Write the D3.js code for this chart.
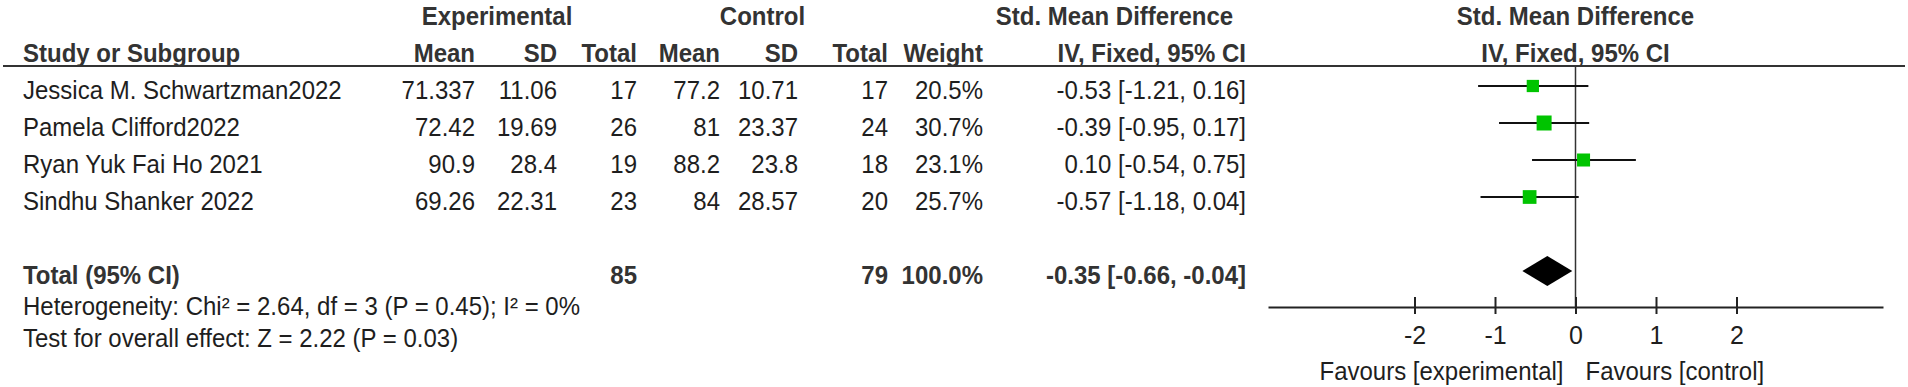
<!DOCTYPE html>
<html>
<head>
<meta charset="utf-8">
<script src="https://cdn.jsdelivr.net/npm/d3@7"></script>
<style>
  body { margin: 0; background: #fff; }
  svg text { font-family: "Liberation Sans", Arial, sans-serif; fill: #1e1e1e; }
</style>
</head>
<body>
<script>
var width = 1908;
var height = 387;

// study rows
var studies = ["Jessica M. Schwartzman2022", "Pamela Clifford2022", "Ryan Yuk Fai Ho 2021", "Sindhu Shanker 2022"];
var expMean = [71.337, 72.42, 90.9, 69.26];
var expSD = [11.06, 19.69, 28.4, 22.31];
var expTotal = [17, 26, 19, 23];
var ctrlMean = [77.2, 81, 88.2, 84];
var ctrlSD = [10.71, 23.37, 23.8, 28.57];
var ctrlTotal = [17, 24, 18, 20];
var weights = [20.5, 30.7, 23.1, 25.7];
var smd = [-0.53, -0.39, 0.10, -0.57];
var ciLow = [-1.21, -0.95, -0.54, -1.18];
var ciHigh = [0.16, 0.17, 0.75, 0.04];

// pooled result
var totalExp = 85;
var totalCtrl = 79;
var totalWeight = 100.0;
var totalSmd = -0.35;
var totalLow = -0.66;
var totalHigh = -0.04;
var heterogeneity = "Heterogeneity: Chi² = 2.64, df = 3 (P = 0.45); I² = 0%";
var overallEffect = "Test for overall effect: Z = 2.22 (P = 0.03)";

var axisTicks = [-2, -1, 0, 1, 2];
var axisDomain = [-3.82, 3.82];

var svg = d3.select("body").append("svg")
  .attr("width", width)
  .attr("height", height);

var x = d3.scaleLinear().domain(axisDomain).range([1268, 1883]);
var rowY = d3.scaleLinear().domain([0, 1]).range([86, 123]);
var boxSize = d3.scaleSqrt().domain([0, 30.7]).range([0, 15]);

var textShift = 13; // baseline below the row's centre line
var col = { study: 23, expMean: 475, expSD: 557, expTotal: 637, ctrlMean: 720, ctrlSD: 798, ctrlTotal: 888, weight: 983, ci: 1246 };

function fmt(v) { return v.toFixed(2); }
function ciText(e, l, h) { return fmt(e) + " [" + fmt(l) + ", " + fmt(h) + "]"; }

// text in the original is a little taller than Arial, so stretch it slightly
function addText(txt, xPos, yPos, anchor, bold) {
  return svg.append("text")
    .attr("transform", "translate(" + xPos + "," + yPos + ") scale(1,1.1)")
    .attr("text-anchor", anchor)
    .style("font-size", "24px")
    .style("font-weight", bold ? "bold" : "normal")
    .style("fill", bold ? "#333" : "#1e1e1e")
    .text(txt);
}

// headers
addText("Experimental", (357 + col.expTotal) / 2, 25, "middle", true);
addText("Control", (col.expTotal + col.ctrlTotal) / 2, 25, "middle", true);
addText("Std. Mean Difference", (col.weight + col.ci) / 2, 25, "middle", true);
addText("Std. Mean Difference", x(0), 25, "middle", true);

addText("Study or Subgroup", col.study, 62, "start", true);
addText("Mean", col.expMean, 62, "end", true);
addText("SD", col.expSD, 62, "end", true);
addText("Total", col.expTotal, 62, "end", true);
addText("Mean", col.ctrlMean, 62, "end", true);
addText("SD", col.ctrlSD, 62, "end", true);
addText("Total", col.ctrlTotal, 62, "end", true);
addText("Weight", col.weight, 62, "end", true);
addText("IV, Fixed, 95% CI", col.ci, 62, "end", true);
addText("IV, Fixed, 95% CI", x(0), 62, "middle", true);

svg.append("line")
  .attr("x1", 3).attr("x2", 1905)
  .attr("y1", 66).attr("y2", 66)
  .attr("stroke", "#333").attr("stroke-width", 2);

// study rows
studies.forEach(function(name, i) {
  var yb = rowY(i) + textShift;
  addText(name, col.study, yb, "start", false);
  addText(String(expMean[i]), col.expMean, yb, "end", false);
  addText(String(expSD[i]), col.expSD, yb, "end", false);
  addText(String(expTotal[i]), col.expTotal, yb, "end", false);
  addText(String(ctrlMean[i]), col.ctrlMean, yb, "end", false);
  addText(String(ctrlSD[i]), col.ctrlSD, yb, "end", false);
  addText(String(ctrlTotal[i]), col.ctrlTotal, yb, "end", false);
  addText(weights[i].toFixed(1) + "%", col.weight, yb, "end", false);
  addText(ciText(smd[i], ciLow[i], ciHigh[i]), col.ci, yb, "end", false);
});

// total row
var totalRow = 5;
var ty = rowY(totalRow) + textShift;
addText("Total (95% CI)", col.study, ty, "start", true);
addText(String(totalExp), col.expTotal, ty, "end", true);
addText(String(totalCtrl), col.ctrlTotal, ty, "end", true);
addText(totalWeight.toFixed(1) + "%", col.weight, ty, "end", true);
addText(ciText(totalSmd, totalLow, totalHigh), col.ci, ty, "end", true);

addText(heterogeneity, col.study, 315, "start", false);
addText(overallEffect, col.study, 347, "start", false);

// forest plot
var axisY = 307;

svg.append("line")
  .attr("x1", x(0)).attr("x2", x(0))
  .attr("y1", 67).attr("y2", axisY)
  .attr("stroke", "#333").attr("stroke-width", 1.5);

svg.selectAll(".ci")
  .data(studies)
  .enter()
  .append("line")
  .attr("class", "ci")
  .attr("x1", (d, i) => x(ciLow[i]))
  .attr("x2", (d, i) => x(ciHigh[i]))
  .attr("y1", (d, i) => rowY(i))
  .attr("y2", (d, i) => rowY(i))
  .attr("stroke", "#111")
  .attr("stroke-width", 2);

svg.selectAll(".box")
  .data(studies)
  .enter()
  .append("rect")
  .attr("class", "box")
  .attr("x", (d, i) => x(smd[i]) - boxSize(weights[i]) / 2)
  .attr("y", (d, i) => rowY(i) - boxSize(weights[i]) / 2)
  .attr("width", (d, i) => boxSize(weights[i]))
  .attr("height", (d, i) => boxSize(weights[i]))
  .attr("fill", "#00c400");

var dy = rowY(totalRow);
svg.append("path")
  .attr("d", "M" + x(totalLow) + "," + dy + "L" + x(totalSmd) + "," + (dy - 15) +
             "L" + x(totalHigh) + "," + dy + "L" + x(totalSmd) + "," + (dy + 15) + "Z")
  .attr("fill", "#000");

var axis = svg.append("g")
  .attr("transform", "translate(0," + axisY + ")")
  .call(d3.axisBottom(x).tickValues(axisTicks).tickSizeOuter(0).tickFormat(d3.format("d")));

axis.select(".domain").attr("stroke", "#222").attr("stroke-width", 2);
axis.selectAll(".tick line").attr("y1", -10).attr("y2", 7).attr("stroke", "#222").attr("stroke-width", 2);
axis.selectAll(".tick text")
  .attr("y", 37).attr("dy", null)
  .style("font-size", "25px")
  .style("font-family", "'Liberation Sans', Arial, sans-serif")
  .attr("fill", "#1e1e1e")
  .text(d => d < 0 ? "-" + Math.abs(d) : d);

addText("Favours [experimental]", x(0) - 12, 380, "end", false);
addText("Favours [control]", x(0) + 10, 380, "start", false);
</script>
</body>
</html>
